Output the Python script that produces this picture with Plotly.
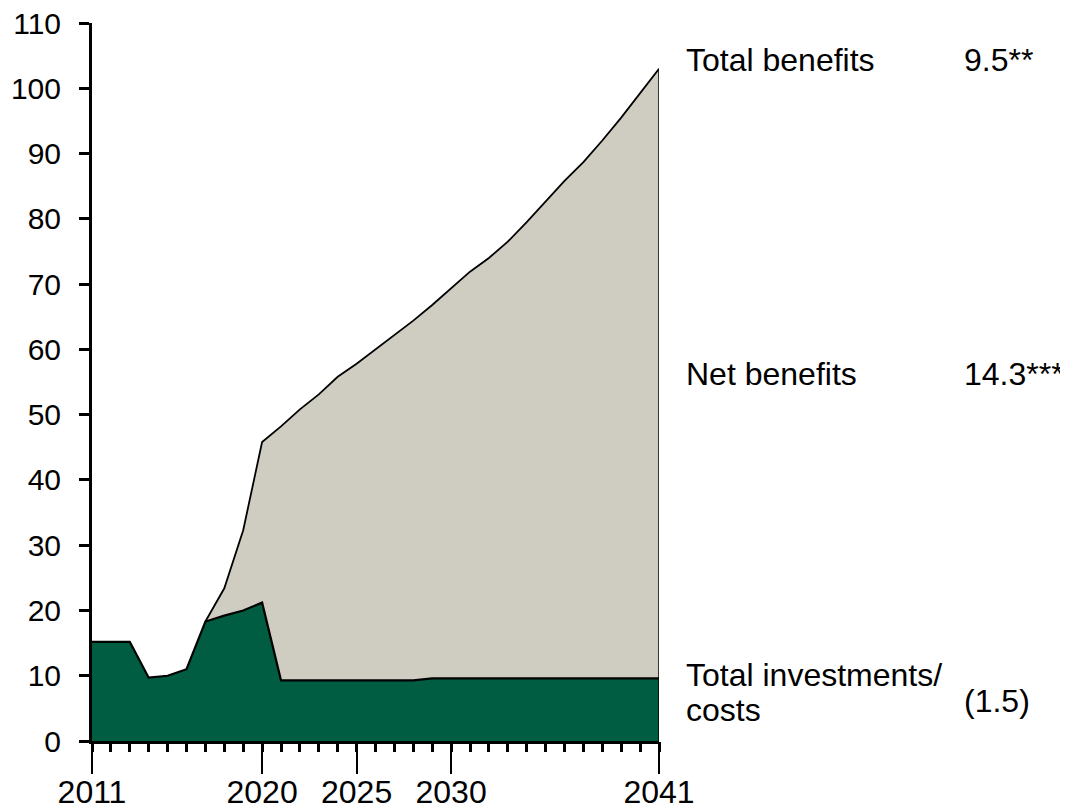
import plotly.graph_objects as go

years = list(range(2011, 2042))
costs = [15.2, 15.2, 15.2, 9.7, 10.0, 11.0, 18.3, 19.2, 20.0, 21.2,
         9.3, 9.3, 9.3, 9.3, 9.3, 9.3, 9.3, 9.3, 9.6, 9.6,
         9.6, 9.6, 9.6, 9.6, 9.6, 9.6, 9.6, 9.6, 9.6, 9.6, 9.6]
benefit_years = list(range(2017, 2042))
benefits = [18.3, 23.4, 32.3, 45.8, 48.2, 50.8, 53.1, 55.8, 57.8, 60.0,
            62.3, 64.4, 66.8, 69.3, 71.9, 74.0, 76.5, 79.5, 82.6, 85.8,
            88.7, 92.0, 95.5, 99.2, 103.0]
major_ticks = [2011, 2020, 2025, 2030, 2041]
y_ticks = list(range(0, 111, 10))

labels = ["Total benefits", "Net benefits", "Total investments/", "costs"]
label_y = [0.9485, 0.5111, 0.0916, 0.0429]
values = ["9.5**", "14.3***", "(1.5)"]
value_y = [0.9485, 0.5111, 0.0555]

GREEN = "#005D42"
GRAY = "#CFCDC1"
FONT = "Liberation Sans, Arial, sans-serif"

fig = go.Figure()
fig.add_trace(go.Scatter(x=benefit_years, y=benefits, mode="lines",
                         fill="tozeroy", fillcolor=GRAY,
                         line=dict(color="black", width=1.8), hoverinfo="skip"))
fig.add_trace(go.Scatter(x=years, y=costs, mode="lines",
                         fill="tozeroy", fillcolor=GREEN,
                         line=dict(color="black", width=2.2), hoverinfo="skip"))
fig.add_trace(go.Scatter(x=[benefit_years[-1], benefit_years[-1]], y=[0, benefits[-1]],
                         mode="lines", line=dict(color="black", width=1.5), hoverinfo="skip"))
# invisible traces to activate the overlay axes
for ax in ["x2", "x3"]:
    fig.add_trace(go.Scatter(x=[years[0]], y=[0], xaxis=ax, mode="markers",
                             marker=dict(opacity=0), hoverinfo="skip"))

# page body has an 8px margin, so the plot area is shifted by -8px here
fig.update_layout(
    width=1068, height=806,
    margin=dict(l=84, r=417, t=15, b=73),
    paper_bgcolor="white", plot_bgcolor="white",
    showlegend=False,
    font=dict(family=FONT, size=30, color="black"),
    xaxis=dict(range=[2011, 2041], tickmode="array", tickvals=major_ticks,
               ticks="outside", ticklen=21, tickwidth=1, tickcolor="rgba(0,0,0,0)",
               showline=True, linecolor="black", linewidth=3,
               showgrid=False, zeroline=False, automargin=False,
               ticklabeloverflow="allow",
               tickfont=dict(family=FONT, size=32, color="black")),
    xaxis2=dict(range=[2011, 2041], overlaying="x", anchor="y", side="bottom",
                tickmode="array", tickvals=years, ticks="outside", ticklen=10,
                tickwidth=3, tickcolor="black", showticklabels=False,
                showline=False, showgrid=False, zeroline=False, automargin=False),
    xaxis3=dict(range=[2011, 2041], overlaying="x", anchor="y", side="bottom",
                tickmode="array", tickvals=major_ticks, ticks="outside", ticklen=32,
                tickwidth=1.5, tickcolor="black", showticklabels=False,
                showline=False, showgrid=False, zeroline=False, automargin=False),
    yaxis=dict(range=[0, 110], tickmode="array", tickvals=y_ticks,
               ticks="outside", ticklen=10, tickwidth=3, tickcolor="black",
               showline=True, linecolor="black", linewidth=3,
               showgrid=False, zeroline=False, automargin=False,
               ticklabelstandoff=12, ticklabeloverflow="allow",
               tickfont=dict(family=FONT, size=30, color="black")),
)

for lab, ly in zip(labels, label_y):
    fig.add_annotation(x=1.0441, y=ly, xref="paper", yref="paper", text=lab,
                       showarrow=False, xanchor="left", yanchor="middle", align="left",
                       font=dict(family=FONT, size=32, color="black"))
for val, vy in zip(values, value_y):
    fig.add_annotation(x=1.535, y=vy, xref="paper", yref="paper", text=val,
                       showarrow=False, xanchor="left", yanchor="middle", align="left",
                       font=dict(family=FONT, size=32, color="black"))

fig.write_html("out.html")
